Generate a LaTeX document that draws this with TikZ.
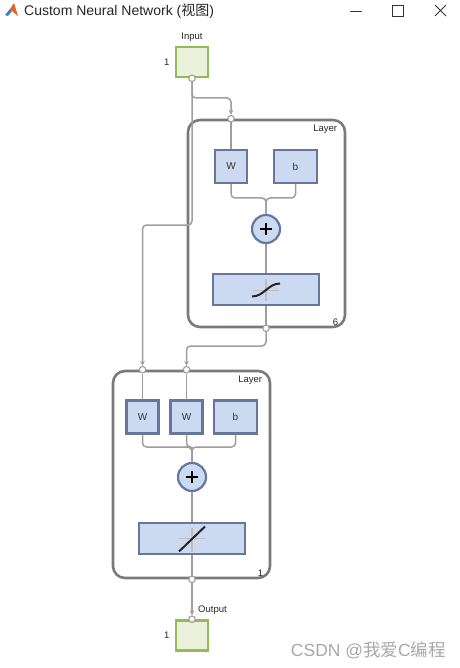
\documentclass[tikz,border=0pt]{standalone}
\usepackage{fontspec}
\setmainfont{Liberation Sans}
\newfontfamily\cjk{Noto Sans CJK SC}
\usetikzlibrary{positioning, arrows.meta}
\definecolor{boxblue}{HTML}{CCDAF1}
\definecolor{boxedge}{HTML}{66779B}
\definecolor{iogreen}{HTML}{EBF1DA}
\definecolor{ioedge}{HTML}{93BC58}
\definecolor{wiregray}{HTML}{9E9E9E}
\definecolor{layergray}{HTML}{7A7A7A}
\definecolor{marktext}{HTML}{A8A8A8}
\definecolor{logored}{HTML}{E0642F}
\definecolor{logoblue}{HTML}{3B7FB5}
\tikzset{
	labelnode/.style={
			inner sep=0pt,
			font=\fontsize{9.5}{10}\selectfont,
			text=black!85
		},
	weightnode/.style={
			draw=boxedge,
			fill=boxblue,
			line width=2.2pt,
			minimum height=33pt,
			minimum width=32pt,
			inner sep=0pt,
			font=\fontsize{10}{11}\selectfont,
			text=black!80
		},
	biasnode/.style={
			weightnode,
			minimum width=43pt
		},
	transfernode/.style={
			weightnode,
			minimum width=106pt,
			minimum height=31pt
		},
	sumnode/.style={
			circle,
			draw=boxedge,
			fill=boxblue,
			line width=2.2pt,
			minimum size=28pt,
			inner sep=0pt
		},
	ionode/.style={
			draw=ioedge,
			fill=iogreen,
			line width=2.6pt,
			minimum width=32pt,
			minimum height=30pt,
			inner sep=0pt
		},
	layernode/.style={
			draw=layergray,
			rounded corners=12pt,
			line width=2.6pt,
			minimum width=157pt,
			minimum height=207pt,
			inner sep=0pt
		},
	portnode/.style={
			circle,
			draw=wiregray,
			fill=white,
			line width=1.1pt,
			minimum size=6.5pt,
			inner sep=0pt
		},
	wire/.style={
			draw=wiregray,
			line width=1.5pt,
			rounded corners=4pt
		},
	arrowwire/.style={
			wire,
			-{Stealth[length=5pt,width=4.5pt]}
		},
	axisline/.style={
			draw=black!25,
			line width=1.4pt
		},
	curveline/.style={
			draw=black!85,
			line width=2pt
		},
	plusline/.style={
			draw=black,
			line width=2pt
		}
}

\begin{document}
\begin{tikzpicture}[x=1pt, y=-1pt]
	\useasboundingbox (0,0) rectangle (459,668);

	\fill[logoblue] (5,15) -- (10,9) -- (12,11) -- (8,16) -- cycle;
	\fill[logored] (10,9) -- (14,3) -- (18,16) -- (13,12) -- cycle;
	\node[anchor=west, inner sep=0pt, font=\fontsize{14}{15}\selectfont, text=black!85] at (24,11) (title) {Custom Neural Network ({\cjk 视图})};
	\draw[black!80, line width=0.8pt] (350,11) -- (362,11);
	\draw[black!80, line width=0.8pt] (392,5) rectangle (403,16);
	\draw[black!80, line width=0.8pt] (435,5) -- (446,16) (446,5) -- (435,16);

	\node[ionode] at (192,62) (inp) {};
	\node[labelnode, above = 4pt of inp] {Input};
	\node[labelnode, left = 5pt of inp] {1};

	\node[layernode] at (266.5,223.5) (layerA) {};
	\node[labelnode, below left = 6pt and 9pt of layerA.north east] {Layer};
	\node[labelnode, above left = 3pt and 8pt of layerA.south east] {6};

	\node[weightnode] at (231,166.5) (w1) {W};
	\node[biasnode] at (295.5,166.5) (b1) {b};
	\node[sumnode] at (266,229) (sumA) {};
	\draw[plusline] ([xshift=-6pt]sumA.center) -- ([xshift=6pt]sumA.center);
	\draw[plusline] ([yshift=-6pt]sumA.center) -- ([yshift=6pt]sumA.center);
	\node[transfernode] at (266,289.5) (sigA) {};
	\begin{scope}[shift={(sigA.center)}]
		\draw[axisline] (-13,1) -- (13,1);
		\draw[axisline] (0,-11) -- (0,11);
		\draw[curveline] (-14,7) .. controls (-2,7) and (2,-6) .. (14,-6);
	\end{scope}

	\node[layernode] at (191.5,474.5) (layerB) {};
	\node[labelnode, below left = 6pt and 9pt of layerB.north east] {Layer};
	\node[labelnode, above left = 3pt and 8pt of layerB.south east] {1};

	\node[weightnode] at (142.5,417) (w3) {W};
	\node[weightnode] at (186.5,417) (w4) {W};
	\node[biasnode] at (235.5,417) (b2) {b};
	\node[sumnode] at (192,477) (sumB) {};
	\draw[plusline] ([xshift=-6pt]sumB.center) -- ([xshift=6pt]sumB.center);
	\draw[plusline] ([yshift=-6pt]sumB.center) -- ([yshift=6pt]sumB.center);
	\node[transfernode] at (192,538.5) (linB) {};
	\begin{scope}[shift={(linB.center)}]
		\draw[axisline] (-13,0) -- (13,0);
		\draw[axisline] (0,-11) -- (0,13);
		\draw[curveline] (-13,13) -- (13,-12);
	\end{scope}

	\node[ionode] at (192,635.5) (outp) {};
	\node[labelnode, above right = 5pt and 6pt of outp.north] {Output};
	\node[labelnode, left = 5pt of outp] {1};

	\node[portnode] at (inp.south) (inport) {};
	\node[portnode] at (w1 |- layerA.north) (portA) {};
	\node[portnode] at (sigA |- layerA.south) (portB) {};
	\node[portnode] at (w3 |- layerB.north) (portC) {};
	\node[portnode] at (w4 |- layerB.north) (portD) {};
	\node[portnode] at (linB |- layerB.south) (portE) {};
	\node[portnode] at (outp.north) (outport) {};

	\draw[arrowwire] (inport.south) -- (inport.south |- 0,98) -| (portA.north);
	\draw[arrowwire] (inport.south) -- (inport.south |- 0,225) -| (portC.north);
	\draw[wire] (portA.south) -- (w1.north);
	\draw[wire] (w1.south) -- (w1.south |- 0,198) -| (sumA.north);
	\draw[wire] (b1.south) -- (b1.south |- 0,198) -| (sumA.north);
	\draw[wire] (sumA.south) -- (sigA.north);
	\draw[wire] (sigA.south) -- (portB.north);
	\draw[arrowwire] (portB.south) -- (portB.south |- 0,346) -| (portD.north);

	\draw[wire] (portC.south) -- (w3.north);
	\draw[wire] (portD.south) -- (w4.north);
	\draw[wire] (w3.south) -- (w3.south |- 0,447) -| (sumB.north);
	\draw[wire] (w4.south) -- (w4.south |- 0,447) -| (sumB.north);
	\draw[wire] (b2.south) -- (b2.south |- 0,447) -| (sumB.north);
	\draw[wire] (sumB.south) -- (linB.north);
	\draw[wire] (linB.south) -- (portE.north);
	\draw[arrowwire] (portE.south) -- (outport.north);

	\node[anchor=east, inner sep=0pt, text=marktext, font=\fontsize{17.5}{18}\selectfont] at (446,650) (mark) {CSDN @{\cjk 我爱}C{\cjk 编程}};
\end{tikzpicture}
\end{document}
